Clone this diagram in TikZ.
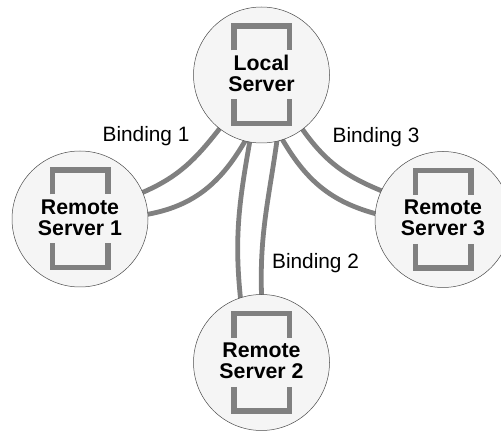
\documentclass[tikz,border=0pt]{standalone}
\usepackage{fontspec}
\setmainfont{Liberation Sans}
\usetikzlibrary{backgrounds}
\tikzset{
    server/.style={draw=black!70,line width=0.5pt,fill=black!4,circle,minimum size=136pt,inner sep=0pt,align=center,text depth=3pt,font=\fontsize{21.3}{21}\selectfont\bfseries},
    binding/.style={draw=black!50,line width=4.8pt,shorten <=-2pt,shorten >=-2pt},
    bracket/.style={draw=black!50,line width=5.5pt},
    caption/.style={inner sep=0pt,font=\fontsize{20.8}{22}\selectfont}
}
\begin{document}
\begin{tikzpicture}[x=1pt,y=1pt]
    \useasboundingbox (0,0) rectangle (501,431);
    \node[server] (local) at (261.5,356) {Local\\Server};
    \node[server] (remoteA) at (80,212) {Remote\\Server 1};
    \node[server] (remoteB) at (261.5,68.5) {Remote\\Server 2};
    \node[server] (remoteC) at (443,211.5) {Remote\\Server 3};
    % brackets above and below the text
    \foreach \srv in {local,remoteA,remoteB,remoteC} {
        \draw[bracket] ([shift={(-27.75,24.5)}]\srv.center) |- ([shift={(27.75,48.75)}]\srv.center) -- ([shift={(27.75,24.5)}]\srv.center);
        \draw[bracket] ([shift={(-27.75,-24.5)}]\srv.center) |- ([shift={(27.75,-48.75)}]\srv.center) -- ([shift={(27.75,-24.5)}]\srv.center);
    }
    \begin{pgfonlayer}{background}
        \draw[binding] (local.232) to[out=232,in=23] (remoteA.23);
        \draw[binding] (local.256) to[out=240,in=10] (remoteA.4);
        \draw[binding] (local.260) to[out=260,in=96] (remoteB.108);
        \draw[binding] (local.283) to[out=262,in=92] (remoteB.90);
        \draw[binding] (local.288) to[out=300,in=165] (remoteC.175);
        \draw[binding] (local.307) to[out=305,in=158] (remoteC.155);
    \end{pgfonlayer}
    \node[caption] (bindingA) at (146,295) {Binding 1};
    \node[caption] (bindingB) at (315.5,168) {Binding 2};
    \node[caption] (bindingC) at (376,294) {Binding 3};
\end{tikzpicture}
\end{document}
